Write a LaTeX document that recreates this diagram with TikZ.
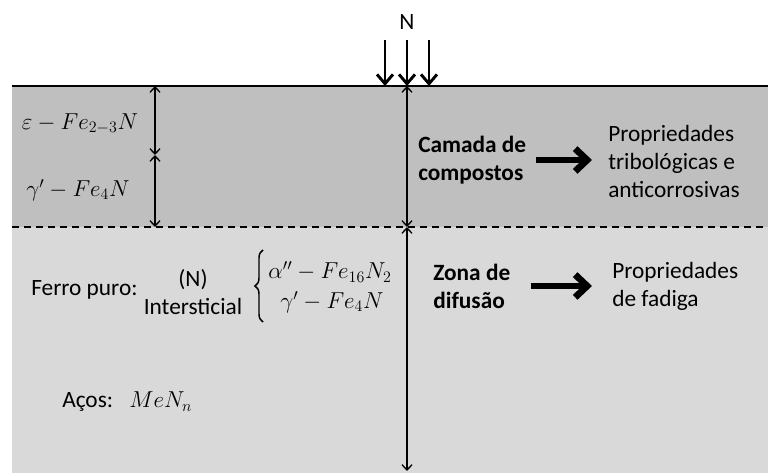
\documentclass[tikz,border=0pt]{standalone}
\usepackage{fontspec}
\setmainfont{Carlito}
\usetikzlibrary{arrows.meta, positioning, decorations.pathreplacing}

\begin{document}
\begin{tikzpicture}[x=0.75pt,y=-0.75pt,
  lbl/.style={font=\fontsize{17.5}{21}\selectfont,inner sep=0pt,align=left},
  bold/.style={lbl,font=\fontsize{17.5}{21}\selectfont\bfseries},
  frm/.style={font=\fontsize{18}{21}\selectfont,inner sep=0pt},
  dim/.style={{Straight Barb[length=4pt,width=7.5pt]}-{Straight Barb[length=4pt,width=7.5pt]},line width=1pt},
  flux/.style={-{Straight Barb[length=7pt,width=12pt]},line width=2.2pt},
  big/.style={-{Straight Barb[length=9pt,width=17pt]},line width=5pt},
  brace/.style={decorate,decoration={brace,amplitude=6pt},line width=1.1pt}
]
  \useasboundingbox (0,0) rectangle (768,473);
  % layers
  \fill[black!25] (12,86) rectangle (768,227);
  \fill[black!15] (12,227) rectangle (768,473);
  \draw[line width=1.8pt] (12,86) -- (768,86);
  \draw[line width=1.8pt,dash pattern=on 5.5pt off 3.5pt] (12,227) -- (768,227);
  % nitrogen flux
  \node[lbl] (N) at (407,22) {N};
  \foreach \i/\x in {1/385,2/407,3/429}{
    \coordinate (n\i) at (\x,40);
    \coordinate (s\i) at (\x,86);
    \draw[flux] (n\i) -- (s\i);
  }
  % thickness marks
  \coordinate (top) at (407,86);
  \coordinate (mid) at (407,227);
  \coordinate (bot) at (407,471);
  \coordinate (ltop) at (155,86);
  \coordinate (lmid) at (155,155);
  \coordinate (lbot) at (155,227);
  \draw[dim] (top) -- (mid);
  \draw[dim] (mid) -- (bot);
  \draw[dim] (ltop) -- (lmid);
  \draw[dim] (lmid) -- (lbot);
  % compound layer
  \node[frm] (eps) at (80,124) {$\varepsilon - Fe_{2-3}N$};
  \node[frm] (gam) at (78,190) {$\gamma' - Fe_4N$};
  \node[bold,anchor=west] (camada) at (418,160) {Camada de\\compostos};
  \node[lbl,anchor=west] (tribo) at (608,161) {Propriedades\\tribológicas e\\anticorrosivas};
  \draw[big,shorten <=7pt,shorten >=12pt] (camada.east) -- (camada.east -| tribo.west);
  % diffusion zone
  \node[bold,anchor=west] (zona) at (433,286) {Zona de\\difusão};
  \node[lbl,anchor=west] (fadiga) at (612,286) {Propriedades\\de fadiga};
  \draw[big,shorten <=15pt,shorten >=15pt] (zona.east) -- (zona.east -| fadiga.west);
  \node[lbl,anchor=west] (ferro) at (31,290) {Ferro puro:};
  \node[lbl,align=center] (inter) at (193,292) {(N)\\Intersticial};
  \draw[brace] (263,322) -- (263,250);
  \node[frm] (alfa) at (330,272) {$\alpha'' - Fe_{16}N_2$};
  \node[frm] (gam2) at (332,302) {$\gamma' - Fe_4N$};
  \node[lbl,anchor=west] (acos) at (62,402) {Aços:\hspace{0.7em}$MeN_n$};
\end{tikzpicture}
\end{document}
